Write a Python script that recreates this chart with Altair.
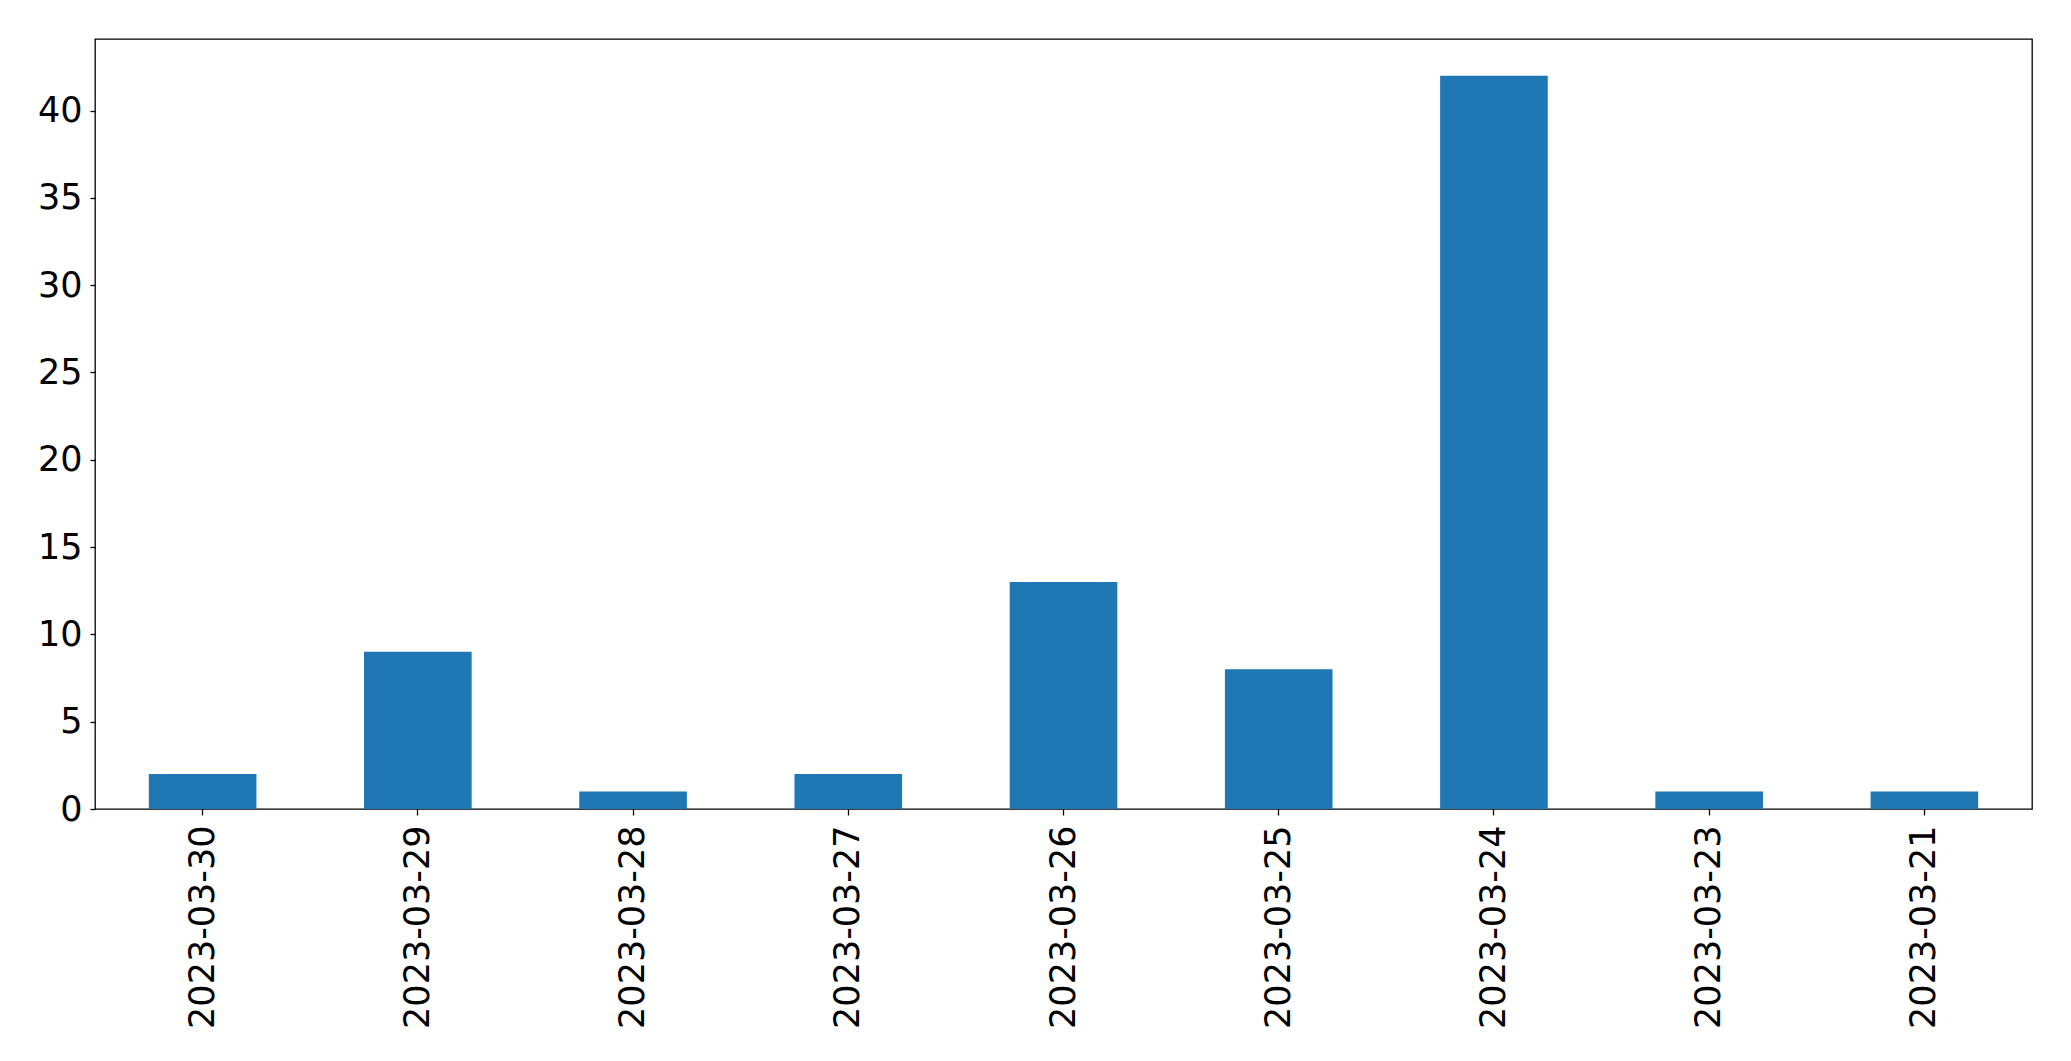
import altair as alt
import pandas as pd

dates = ["2023-03-30", "2023-03-29", "2023-03-28", "2023-03-27", "2023-03-26",
         "2023-03-25", "2023-03-24", "2023-03-23", "2023-03-21"]
counts = [2, 9, 1, 2, 13, 8, 42, 1, 1]

df = pd.DataFrame({"date": dates, "count": counts})

chart = alt.Chart(df).mark_bar(color="#1f77b4").encode(
    x=alt.X("date:N", sort=dates, title=None,
            scale=alt.Scale(paddingInner=0.5, paddingOuter=0.25),
            axis=alt.Axis(labelAngle=-90, labelAlign="right", labelBaseline="middle",
                          labelFont="DejaVu Sans", labelFontSize=35, labelColor="black",
                          labelLimit=0, labelOverlap=False,
                          tickColor="black", tickSize=6, tickWidth=1.3, labelPadding=10,
                          domain=False, grid=False)),
    y=alt.Y("count:Q", title=None,
            scale=alt.Scale(domain=[0, 44.1], nice=False, zero=True),
            axis=alt.Axis(values=[0, 5, 10, 15, 20, 25, 30, 35, 40],
                          labelFont="DejaVu Sans", labelFontSize=35, labelColor="black",
                          tickColor="black", tickSize=5, tickWidth=1.3, labelPadding=8,
                          domain=False, grid=False)),
).properties(
    width=1937, height=770,
    autosize=alt.AutoSizeParams(type="none"),
    padding={"left": 87, "top": 31, "right": 30, "bottom": 240},
).configure(
    background="white"
).configure_view(
    stroke="black", strokeWidth=1.3
)

chart.save("out.html", embed_options={"renderer": "svg", "actions": False})
